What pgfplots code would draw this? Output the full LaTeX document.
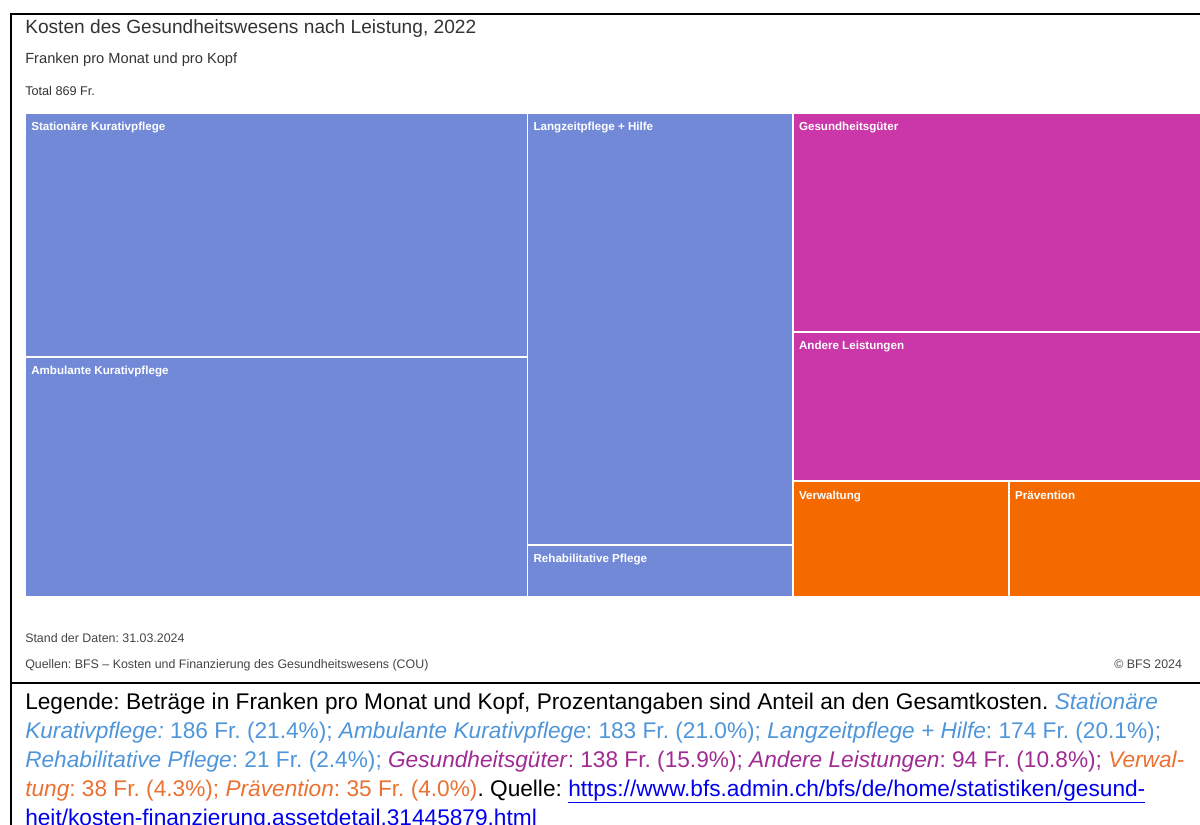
\documentclass[border=0pt]{standalone}
\usepackage{fontspec}
\setmainfont{Liberation Sans}
\usepackage{pgfplots}
\pgfplotsset{compat=1.18}
\definecolor{tmblue}{HTML}{7189D7}
\definecolor{tmmag}{HTML}{CB36A8}
\definecolor{tmorange}{HTML}{F46A00}
\definecolor{capblue}{HTML}{4E95D9}
\definecolor{cappurple}{HTML}{A02B93}
\definecolor{caporange}{HTML}{E97132}
\definecolor{linkblue}{HTML}{0000EE}
\definecolor{titlegray}{HTML}{333333}
\definecolor{notegray}{HTML}{444444}
\def\pxu{0.75pt}
\frenchspacing
\tikzset{tmlabel/.style={anchor=base west,inner sep=0pt,text=white,font={\bfseries\fontsize{8.7pt}{10pt}\selectfont},xshift=4.5pt,yshift=-13.4pt},
  capline/.style={anchor=base west,inner sep=0pt,font={\frenchspacing\fontsize{17pt}{21.6pt}\selectfont}},
  note/.style={anchor=base west,inner sep=0pt,text=notegray,font={\frenchspacing\fontsize{9.3pt}{11pt}\selectfont}}}
\begin{document}
\begin{tikzpicture}
\useasboundingbox (0,0) rectangle (1200*\pxu,-825*\pxu);
\clip (0,0) rectangle (1200*\pxu,-825*\pxu);
% frame
\draw[line width=1.5pt] (11*\pxu,-826*\pxu) -- (11*\pxu,-14*\pxu) -- (1201*\pxu,-14*\pxu);
\draw[line width=1.5pt] (11*\pxu,-683*\pxu) -- (1201*\pxu,-683*\pxu);
% titles
\node[anchor=base west,inner sep=0pt,text=titlegray,font={\fontsize{14.35pt}{16pt}\selectfont}] at (25*\pxu,-33*\pxu) {Kosten des Gesundheitswesens nach Leistung, 2022};
\node[anchor=base west,inner sep=0pt,text=titlegray,font={\fontsize{11pt}{13pt}\selectfont}] at (25*\pxu,-63*\pxu) {Franken pro Monat und pro Kopf};
\node[anchor=base west,inner sep=0pt,text=titlegray,font={\frenchspacing\fontsize{9.5pt}{11pt}\selectfont}] at (25*\pxu,-95*\pxu) {Total 869 Fr.};
\begin{axis}[at={(25*\pxu,-113*\pxu)},anchor=north west,scale only axis,
  width=887.25pt,height=363pt,xmin=0,xmax=869,ymin=0,ymax=1,
  y dir=reverse,axis lines=none,clip=false]
% values: 186, 183 | 174, 21 | 138, 94 | 38, 35 (total 869)
\addplot[fill=tmblue,draw=white,line width=1.1pt] coordinates {(0,0) (369,0) (369,0.50407) (0,0.50407)} --cycle;
\addplot[fill=tmblue,draw=white,line width=1.1pt] coordinates {(0,0.50407) (369,0.50407) (369,1) (0,1)} --cycle;
\addplot[fill=tmblue,draw=white,line width=1.1pt] coordinates {(369,0) (564,0) (564,0.89231) (369,0.89231)} --cycle;
\addplot[fill=tmblue,draw=white,line width=1.1pt] coordinates {(369,0.89231) (564,0.89231) (564,1) (369,1)} --cycle;
\addplot[fill=tmmag,draw=white,line width=1.1pt] coordinates {(564,0) (869,0) (869,0.45246) (564,0.45246)} --cycle;
\addplot[fill=tmmag,draw=white,line width=1.1pt] coordinates {(564,0.45246) (869,0.45246) (869,0.76066) (564,0.76066)} --cycle;
\addplot[fill=tmorange,draw=white,line width=1.1pt] coordinates {(564,0.76066) (722.77,0.76066) (722.77,1) (564,1)} --cycle;
\addplot[fill=tmorange,draw=white,line width=1.1pt] coordinates {(722.77,0.76066) (869,0.76066) (869,1) (722.77,1)} --cycle;
\node[tmlabel] at (axis cs:0,0) {Stationäre Kurativpflege};
\node[tmlabel] at (axis cs:0,0.50407) {Ambulante Kurativpflege};
\node[tmlabel] at (axis cs:369,0) {Langzeitpflege + Hilfe};
\node[tmlabel] at (axis cs:369,0.89231) {Rehabilitative Pflege};
\node[tmlabel] at (axis cs:564,0) {Gesundheitsgüter};
\node[tmlabel] at (axis cs:564,0.45246) {Andere Leistungen};
\node[tmlabel] at (axis cs:564,0.76066) {Verwaltung};
\node[tmlabel] at (axis cs:722.77,0.76066) {Prävention};
\end{axis}
% notes
\node[note] at (25*\pxu,-642*\pxu) {Stand der Daten: 31.03.2024};
\node[note] at (25*\pxu,-668*\pxu) {Quellen: BFS -- Kosten und Finanzierung des Gesundheitswesens (COU)};
\node[note] at (1114*\pxu,-668*\pxu) {© BFS 2024};
% caption
\node[capline] at (25*\pxu,-709*\pxu) {Legende: Beträge in Franken pro Monat und Kopf, Prozentangaben sind Anteil an den Gesamtkosten. \textcolor{capblue}{\itshape Stationäre}};
\node[capline] at (25*\pxu,-738*\pxu) {\textcolor{capblue}{\textit{Kurativpflege:} 186 Fr. (21.4\%); \textit{Ambulante Kurativpflege}: 183 Fr. (21.0\%); \textit{Langzeitpflege + Hilfe}: 174 Fr. (20.1\%);}};
\node[capline] at (25*\pxu,-767*\pxu) {\textcolor{capblue}{\textit{Rehabilitative Pflege}: 21 Fr. (2.4\%);} \textcolor{cappurple}{\textit{Gesundheitsgüter}: 138 Fr. (15.9\%); \textit{Andere Leistungen}: 94 Fr. (10.8\%);} \textcolor{caporange}{\textit{Verwal-}}};
\node[capline] at (25*\pxu,-796*\pxu) {\textcolor{caporange}{\textit{tung}: 38 Fr. (4.3\%); \textit{Prävention}: 35 Fr. (4.0\%)}. Quelle: \textcolor{linkblue}{\underline{https://www.bfs.admin.ch/bfs/de/home/statistiken/gesund-}}};
\node[capline] at (25*\pxu,-825*\pxu) {\textcolor{linkblue}{\underline{heit/kosten-finanzierung.assetdetail.31445879.html}}};
\end{tikzpicture}
\end{document}
